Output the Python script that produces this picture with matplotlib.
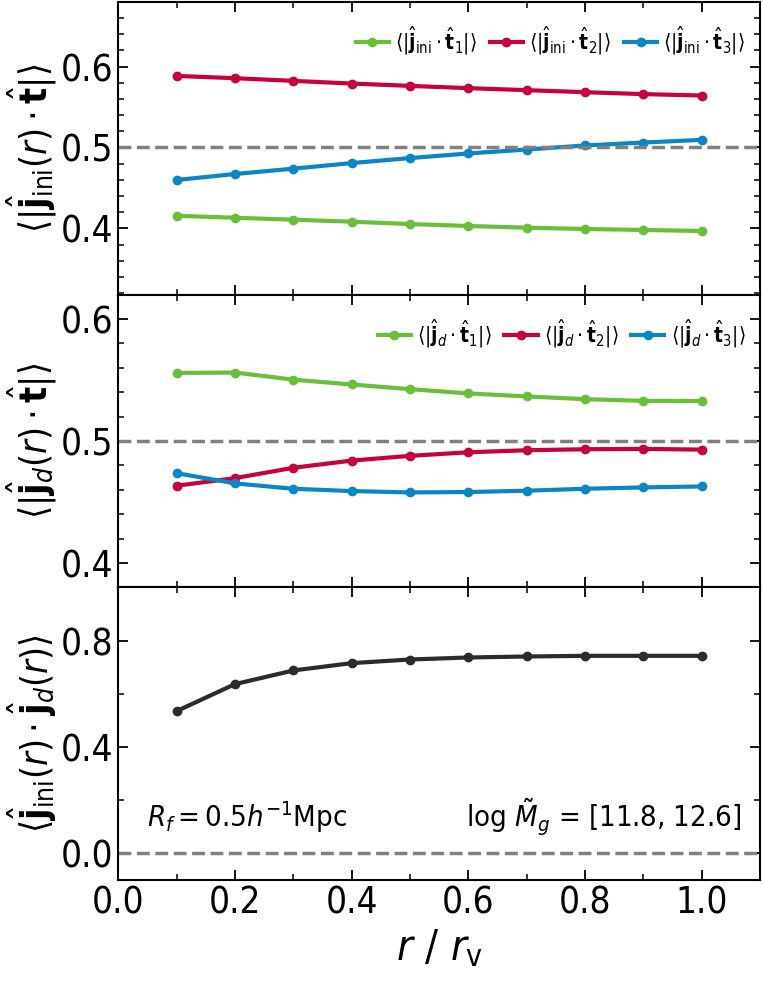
import matplotlib
matplotlib.use("Agg")
import matplotlib.pyplot as plt
from matplotlib.ticker import MultipleLocator

plt.rcParams['font.family'] = ['DejaVu Sans']
plt.rcParams['font.stretch'] = 'condensed'
plt.rcParams['mathtext.fontset'] = 'custom'
plt.rcParams['mathtext.rm'] = 'DejaVu Sans:stretch=condensed'
plt.rcParams['mathtext.it'] = 'DejaVu Sans:italic:stretch=condensed'
plt.rcParams['mathtext.bf'] = 'DejaVu Sans:bold:stretch=condensed'

r = [0.1, 0.2, 0.3, 0.4, 0.5, 0.6, 0.7, 0.8, 0.9, 1.0]

# top panel: initial spin vs tidal axes
ini_t1 = [0.4156, 0.4131, 0.4107, 0.4082, 0.4053, 0.4029, 0.4008, 0.3992, 0.3980, 0.3967]
ini_t2 = [0.5885, 0.5857, 0.5824, 0.5791, 0.5762, 0.5734, 0.5709, 0.5684, 0.5660, 0.5643]
ini_t3 = [0.4598, 0.4672, 0.4738, 0.4807, 0.4869, 0.4926, 0.4975, 0.5025, 0.5061, 0.5094]

# middle panel: final spin vs tidal axes
d_t1 = [0.5558, 0.5561, 0.5503, 0.5463, 0.5425, 0.5390, 0.5365, 0.5343, 0.5329, 0.5327]
d_t2 = [0.4633, 0.4695, 0.4780, 0.4839, 0.4878, 0.4907, 0.4924, 0.4932, 0.4935, 0.4929]
d_t3 = [0.4736, 0.4652, 0.4608, 0.4589, 0.4578, 0.4581, 0.4592, 0.4608, 0.4619, 0.4627]

# bottom panel: ini . d
ini_d = [0.5346, 0.6360, 0.6873, 0.7149, 0.7286, 0.7362, 0.7399, 0.7424, 0.7424, 0.7424]

green = '#6abf3a'
red = '#c8003c'
blue = '#0a86c4'

fig, axes = plt.subplots(3, 1, figsize=(7.63, 9.81), dpi=100, sharex=True)
fig.subplots_adjust(left=0.155, right=0.996, top=0.998, bottom=0.103, hspace=0)

kw = dict(lw=3, marker='o', ms=6)

ax = axes[0]
ax.plot(r, ini_t1, color=green, label=r'$\langle|\hat{\mathbf{j}}_{\rm ini}\cdot\hat{\mathbf{t}}_1|\rangle$', **kw)
ax.plot(r, ini_t2, color=red, label=r'$\langle|\hat{\mathbf{j}}_{\rm ini}\cdot\hat{\mathbf{t}}_2|\rangle$', **kw)
ax.plot(r, ini_t3, color=blue, label=r'$\langle|\hat{\mathbf{j}}_{\rm ini}\cdot\hat{\mathbf{t}}_3|\rangle$', **kw)
ax.axhline(0.5, color='gray', ls='--', lw=2.5)
ax.set_ylim(0.318, 0.68)
ax.yaxis.set_major_locator(MultipleLocator(0.1))
ax.yaxis.set_minor_locator(MultipleLocator(0.02))
ax.set_ylabel(r'$\langle|\hat{\mathbf{j}}_{\rm ini}(r)\cdot\hat{\mathbf{t}}|\rangle$', fontsize=27)

ax = axes[1]
ax.plot(r, d_t1, color=green, label=r'$\langle|\hat{\mathbf{j}}_d\cdot\hat{\mathbf{t}}_1|\rangle$', **kw)
ax.plot(r, d_t2, color=red, label=r'$\langle|\hat{\mathbf{j}}_d\cdot\hat{\mathbf{t}}_2|\rangle$', **kw)
ax.plot(r, d_t3, color=blue, label=r'$\langle|\hat{\mathbf{j}}_d\cdot\hat{\mathbf{t}}_3|\rangle$', **kw)
ax.axhline(0.5, color='gray', ls='--', lw=2.5)
ax.set_ylim(0.38, 0.62)
ax.yaxis.set_major_locator(MultipleLocator(0.1))
ax.yaxis.set_minor_locator(MultipleLocator(0.02))
ax.set_ylabel(r'$\langle|\hat{\mathbf{j}}_d(r)\cdot\hat{\mathbf{t}}|\rangle$', fontsize=27)

ax = axes[2]
ax.plot(r, ini_d, color='#2b2b2b', **kw)
ax.axhline(0.0, color='gray', ls='--', lw=2.5)
ax.set_ylim(-0.1, 1.0)
ax.yaxis.set_major_locator(MultipleLocator(0.4))
ax.yaxis.set_minor_locator(MultipleLocator(0.2))
ax.set_ylabel(r'$\langle\hat{\mathbf{j}}_{\rm ini}(r)\cdot\hat{\mathbf{j}}_d(r)\rangle$', fontsize=27)
ax.text(0.05, 0.1, r'$R_f = 0.5h^{-1}$Mpc', fontsize=21)
ax.text(1.067, 0.1, r'$\log\,\tilde{M}_g$ = [11.8, 12.6]', fontsize=21, ha='right')
ax.set_xlabel(r'$r\ /\ r_{\rm v}$', fontsize=31)

for ax in axes:
    ax.set_xlim(0.0, 1.1)
    ax.xaxis.set_major_locator(MultipleLocator(0.2))
    ax.xaxis.set_minor_locator(MultipleLocator(0.1))
    ax.tick_params(which='both', direction='in', top=True, right=True, labelsize=26.5)
    ax.tick_params(which='major', length=7, width=1.3)
    ax.tick_params(which='minor', length=4, width=1.1)
    for s in ax.spines.values():
        s.set_linewidth(1.5)
    ax.yaxis.set_label_coords(-0.092, 0.5)

for ax in axes[:2]:
    ax.legend(loc='upper right', bbox_to_anchor=(1.0, 0.973), ncol=3,
              frameon=False, fontsize=15, handlelength=1.6, columnspacing=0.6,
              handletextpad=0.3, borderaxespad=0.3)

fig.savefig('out.png', dpi=100)
